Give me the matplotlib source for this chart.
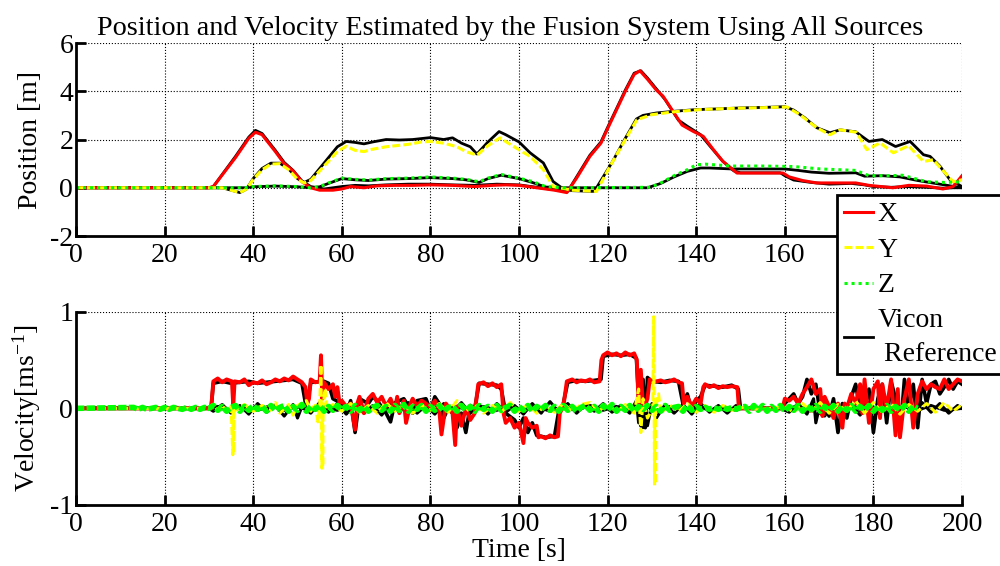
import numpy as np
import matplotlib.pyplot as plt
from matplotlib.lines import Line2D

plt.rcParams['font.family'] = 'Liberation Serif'
plt.rcParams['mathtext.default'] = 'regular'
plt.rcParams['axes.unicode_minus'] = False

# ---- position [m], (time s, value) ----
pos_x = [(0, 0), (30, 0), (31, 0.05), (36, 1.25), (39, 2.05), (40.5, 2.3), (42, 2.2), (45, 1.5), (47, 1.0),
         (49, 0.7), (51, 0.25), (53, 0.0), (55, -0.1), (58, -0.1), (60, -0.05), (62, 0.05), (65, 0.0),
         (68, 0.08), (72, 0.1), (76, 0.1), (80, 0.12), (85, 0.1), (90, 0.05), (94, 0.1), (97, 0.12),
         (100, 0.1), (104, 0.0), (108, -0.1), (110.8, -0.2), (113, 0.4), (116, 1.3), (118.5, 1.85),
         (120, 2.45), (124, 4.0), (126, 4.7), (127.3, 4.85), (129, 4.5), (131, 4.05), (132.5, 3.8),
         (136.8, 2.6), (139.3, 2.34), (141.6, 2.13), (143.8, 1.6), (146, 1.1), (149.2, 0.61), (159.6, 0.61),
         (161, 0.45), (164, 0.3), (167.2, 0.2), (171, 0.2), (176, 0.2), (179, 0.1), (184.4, 0.0),
         (188, 0.1), (192, 0.07), (195.7, -0.05), (198, 0.05), (200, 0.5)]
pos_y = [(0, 0), (33, 0), (35, -0.1), (37, -0.2), (38.5, -0.05), (40, 0.35), (42, 0.75), (44, 0.98),
         (46, 1.0), (48, 0.75), (50, 0.35), (51.5, 0.2), (53, 0.3), (55, 0.7), (57, 1.1), (59, 1.5),
         (61, 1.72), (63, 1.55), (65, 1.5), (67, 1.6), (70, 1.7), (75, 1.8), (78, 1.9), (80, 1.92),
         (83, 1.85), (86, 1.7), (88, 1.5), (90.5, 1.35), (93, 1.75), (95.7, 2.07), (98, 1.8), (102.5, 1.3),
         (105.5, 0.75), (107.7, 0.05), (112, -0.1), (117.5, -0.15), (120.5, 0.88), (124, 2.0), (126.6, 2.82),
         (130, 3.03), (135, 3.15), (140.9, 3.24), (145, 3.27), (149.9, 3.3), (155, 3.32), (160.5, 3.35),
         (163.4, 3.03), (167.2, 2.49), (170.2, 2.2), (172.5, 2.4), (176.2, 2.3), (178.5, 1.58), (181.5, 1.86),
         (184.5, 1.45), (187.9, 1.74), (191.3, 1.09), (193.5, 1.16), (198, 0.25), (200, 0.33)]
pos_z = [(0, 0), (38, 0), (40, 0.05), (45, 0.08), (50, 0.05), (53, 0.0), (55, 0.05), (57, 0.2), (60, 0.4),
         (63, 0.35), (66, 0.32), (70, 0.38), (75, 0.4), (80, 0.45), (85, 0.4), (88, 0.35), (91, 0.25),
         (93, 0.4), (96, 0.55), (100, 0.4), (103, 0.26), (106, 0.05), (110, 0.0), (129.6, 0.02), (132, 0.2),
         (135, 0.5), (138, 0.75), (140, 0.95), (142, 0.98), (148, 0.9), (155, 0.9), (162, 0.88), (168, 0.78),
         (176, 0.72), (179, 0.5), (184, 0.5), (186.5, 0.52), (189, 0.4), (192, 0.25), (196, 0.22), (200, 0.25)]

vicon_px = [(0, 0), (30, 0), (31, 0.05), (36, 1.3), (39, 2.1), (40.5, 2.38), (42, 2.25), (45, 1.55),
            (47, 1.05), (49, 0.72), (51, 0.28), (53, 0.05), (56, -0.05), (60, 0.05), (63, 0.1), (66, 0.08),
            (70, 0.12), (75, 0.15), (80, 0.15), (85, 0.12), (90, 0.1), (95, 0.15), (100, 0.12), (104, 0.02),
            (108, -0.08), (111, -0.15), (113, 0.45), (116, 1.35), (118.5, 1.9), (120, 2.5), (124, 4.05),
            (126, 4.75), (127.5, 4.85), (129, 4.55), (131, 4.1), (133, 3.65), (136, 2.8), (138, 2.55),
            (141, 2.2), (143, 1.75), (146, 1.1), (148.5, 0.7), (150, 0.62), (159, 0.62), (160, 0.5),
            (162, 0.32), (166, 0.22), (170, 0.15), (175, 0.18), (178, 0.12), (180, 0.05), (184, 0.02),
            (188, 0.05), (192, 0.02), (196, -0.02), (198, 0.0), (200, 0.0)]
vicon_py = [(0, 0), (33, 0), (35, -0.1), (37, -0.2), (38.5, -0.05), (40, 0.38), (42, 0.8), (44, 1.02),
            (46, 1.02), (48, 0.78), (50, 0.38), (51.5, 0.22), (53, 0.35), (55, 0.8), (57, 1.25), (59, 1.7),
            (61, 1.92), (63, 1.88), (65, 1.82), (67, 1.9), (70, 2.0), (73, 1.98), (76, 2.0), (80, 2.08),
            (83, 2.0), (85, 2.07), (87, 1.85), (89, 1.7), (90.5, 1.4), (93, 1.9), (95.5, 2.33), (97, 2.2),
            (100, 1.9), (102.5, 1.45), (105.5, 1.03), (107.7, 0.26), (110, -0.05), (112, -0.12), (117, -0.15),
            (119, 0.45), (121, 1.05), (124, 2.05), (126.5, 2.85), (128, 3.0), (131, 3.1), (135, 3.17),
            (140, 3.24), (145, 3.27), (150, 3.31), (155, 3.33), (160, 3.36), (162, 3.22), (164.5, 2.9),
            (167.2, 2.49), (170.2, 2.28), (172.5, 2.4), (176, 2.32), (179, 1.92), (182, 2.0), (185, 1.71),
            (188.3, 1.92), (191.3, 1.37), (192.8, 1.3), (195, 0.9), (197.3, 0.33), (200, 0.05)]
vicon_pz = [(0, 0), (38, 0), (40, 0.04), (45, 0.07), (50, 0.04), (53, 0.0), (55, 0.04), (57, 0.18),
            (60, 0.38), (63, 0.33), (66, 0.3), (70, 0.36), (75, 0.38), (80, 0.42), (85, 0.38), (88, 0.33),
            (91, 0.22), (93, 0.38), (96, 0.52), (100, 0.38), (103, 0.22), (106, 0.03), (110, 0.0), (129, 0.0),
            (132, 0.18), (135, 0.45), (138, 0.68), (141, 0.82), (143, 0.82), (148, 0.78), (160, 0.78),
            (163, 0.72), (166, 0.65), (170, 0.6), (176, 0.62), (178, 0.48), (182, 0.5), (186, 0.45),
            (190, 0.3), (195, 0.15), (200, 0.0)]

# ---- velocity [m/s], (time s, value) ----
vel_x = [(0, 0), (30.5, 0), (31, 0.28), (32, 0.31), (33, 0.27), (34, 0.3), (35.2, 0.28), (35.5, 0.02),
         (35.8, 0.28), (37, 0.27), (38, 0.3), (39, 0.24), (40, 0.27), (41, 0.26), (42, 0.29), (43, 0.25),
         (44, 0.27), (45, 0.3), (46, 0.28), (47, 0.31), (48, 0.29), (49, 0.33), (50, 0.3), (51, 0.27),
         (51.8, 0.22), (52.2, 0.05), (52.6, 0.1), (53, 0.3), (54, 0.27), (55, 0.28), (55.3, 0.55),
         (55.6, 0.1), (56, 0.27), (57, 0.2), (58, 0.25), (58.5, 0.12), (59, 0.22), (59.5, 0.05), (60, 0.08),
         (61, 0.02), (62, 0.05), (63, -0.22), (63.5, 0.05), (64, 0.12), (65, -0.05), (66, 0.1), (67, 0.15),
         (68, 0.06), (69, 0.12), (70, 0.02), (71, 0.1), (72, -0.02), (72.5, 0.12), (73, -0.05), (74, 0.08),
         (74.5, -0.15), (75.5, 0.05), (76, 0.1), (77, 0.02), (78, 0.08), (79, 0.05), (80, 0.01), (81, 0.08),
         (82, -0.02), (82.5, -0.27), (83.5, 0.05), (84, 0.02), (85, -0.05), (85.6, -0.38), (86, 0.02),
         (87, -0.18), (88, 0.0), (89, -0.12), (90, -0.05), (90.8, 0.25), (92, 0.27), (93, 0.23), (94, 0.26),
         (95, 0.22), (96, 0.25), (96.5, -0.05), (97, -0.15), (98, -0.1), (99, -0.2), (100, -0.15),
         (101, -0.36), (101.5, -0.1), (102, -0.15), (103, -0.2), (104, -0.18), (104.4, -0.3), (105, -0.29),
         (106, -0.31), (107, -0.28), (108, -0.3), (108.8, -0.29), (109.2, -0.05), (110, 0.02), (110.8, 0.28),
         (112, 0.3), (113, 0.27), (114, 0.29), (115, 0.28), (116, 0.3), (117, 0.27), (118.2, 0.28),
         (118.6, 0.5), (119, 0.55), (120, 0.58), (121, 0.55), (122, 0.57), (123, 0.54), (124, 0.58),
         (125, 0.55), (126, 0.57), (126.6, 0.5), (127, 0.05), (127.5, 0.4), (128, 0.0), (129, 0.1),
         (129.5, 0.3), (130, 0.27), (131, 0.28), (132, 0.29), (133, 0.27), (134, 0.28), (135, 0.3),
         (136, 0.27), (136.8, 0.26), (137.2, 0.05), (138, 0.12), (139, 0.02), (140, 0.1), (141, 0.05),
         (141.6, 0.22), (142, 0.25), (143, 0.22), (144, 0.24), (145, 0.21), (146, 0.23), (147, 0.22),
         (148, 0.23), (149.3, 0.22), (149.6, 0.02), (150, 0.0), (159.5, 0.0), (160, 0.1), (161, 0.08),
         (162, 0.12), (163, 0.05), (164, 0.15), (165, 0.22), (166, 0.3), (167, 0.15), (168, 0.2),
         (168.5, -0.08), (169, 0.12), (170, 0.02), (171, -0.1), (172, 0.05), (173, -0.2), (173.5, 0.05),
         (174, 0.0), (175, 0.15), (176, 0.05), (177, 0.25), (177.5, -0.05), (178, 0.3), (179, -0.15),
         (180, 0.2), (181, 0.28), (181.5, -0.1), (182, 0.25), (183, 0.0), (184, 0.3), (185, -0.28),
         (185.5, 0.2), (186, -0.3), (187, 0.1), (188, 0.3), (189, -0.2), (190, 0.15), (191, 0.28),
         (192, 0.2), (193, 0.25), (194, 0.22), (195, 0.2), (196, 0.3), (197, 0.2), (198, 0.25), (199, 0.3),
         (200, 0.28)]
vel_y = [(0, 0), (30, 0), (31, 0.04), (32, -0.02), (33, 0.03), (34, -0.03), (35, 0.02), (35.4, -0.48),
         (35.5, 0.0), (35.6, -0.46), (35.7, 0.02), (36, -0.02), (38, 0.04), (40, -0.03), (42, 0.03),
         (44, -0.02), (45, 0.06), (46, -0.05), (48, 0.04), (49, -0.07), (50, 0.03), (52, 0.08), (53, -0.03),
         (54, 0.05), (54.6, -0.14), (55, 0.02), (55.3, 0.45), (55.5, -0.62), (55.6, 0.0), (55.7, -0.6),
         (55.8, 0.02), (56.2, 0.2), (56.6, 0.0), (58, 0.04), (60, -0.03), (62, 0.05), (64, -0.04), (66, 0.03),
         (68, -0.05), (70, 0.06), (72, -0.03), (74, 0.04), (76, -0.05), (78, 0.03), (80, -0.02), (82, 0.05),
         (84, -0.04), (86, 0.08), (88, -0.03), (90, 0.04), (92, -0.05), (94, 0.03), (96, -0.04), (98, 0.06),
         (100, -0.03), (102, 0.04), (104, -0.05), (106, 0.03), (108, -0.04), (110, 0.05), (112, -0.03),
         (114, 0.04), (116, 0.06), (118, -0.03), (120, 0.05), (122, -0.04), (124, 0.04), (126, -0.05),
         (127, 0.2), (127.5, -0.25), (128, 0.1), (129, -0.1), (130.2, 0.0), (130.4, 0.95), (130.6, -0.8),
         (130.65, 0.0), (130.7, -0.78), (130.8, 0.0), (131.5, 0.15), (132, -0.05), (134, 0.04), (136, -0.03),
         (138, 0.05), (140, -0.04), (142, 0.03), (144, -0.04), (146, 0.03), (148, -0.02), (150, 0.01),
         (155, -0.01), (160, 0.02), (162, -0.04), (164, 0.05), (166, -0.03), (168, 0.06), (170, -0.05),
         (172, 0.04), (174, -0.03), (176, 0.08), (178, -0.05), (180, 0.06), (182, -0.04), (184, 0.05),
         (186, -0.06), (188, 0.04), (190, -0.03), (192, 0.05), (194, -0.04), (196, 0.06), (198, -0.03),
         (200, 0.04)]
# z velocity sampled every second from t = 13 s (zero before that)
vel_z_start = 13
vel_z = [0.01, -0.01, 0.01, -0.01, 0.0, 0.01, -0.01, 0.01, -0.01, 0.01, 0.0, -0.01, 0.01, -0.01, 0.01,
         -0.01, 0.01, 0.0,
         0.03, -0.02, 0.02, -0.03, 0.01, 0.03, -0.03, 0.02, -0.02, 0.03,
         -0.01, 0.02, -0.03, 0.03, -0.02, 0.01, 0.03, -0.03, 0.02, -0.02,
         0.04, -0.03, 0.02, -0.01, 0.03, -0.03, 0.02, -0.02, 0.03, -0.01,
         0.02, -0.03, 0.03, -0.02, 0.02, -0.03, 0.01, 0.03, -0.02, 0.02,
         -0.03, 0.03, -0.02, 0.04, -0.03, 0.02, -0.01, 0.03, -0.03, 0.02,
         -0.02, 0.03, -0.03, 0.01, 0.02, -0.03, 0.03, -0.02, 0.02, -0.03,
         0.03, -0.01, 0.02, -0.03, 0.03, -0.02, 0.01, 0.03, -0.03, 0.02,
         -0.02, 0.03, -0.03, 0.02, -0.01, 0.03, -0.02, 0.02, -0.03, 0.03,
         -0.02, 0.02, -0.03, 0.01, 0.03, -0.02, 0.02, -0.03, 0.03, -0.02,
         0.04, -0.03, 0.02, -0.02, 0.03, -0.03, 0.02, -0.01, 0.03, -0.02,
         0.02, -0.03, 0.03, -0.02, 0.01, 0.02, -0.03, 0.03, -0.02, 0.02,
         -0.01, 0.01, -0.01, 0.01, -0.01, 0.01, -0.01, 0.01, -0.01, 0.01,
         0.02, -0.03, 0.03, -0.02, 0.03, -0.03, 0.02, -0.02, 0.03, -0.03,
         0.02, -0.02, 0.03, -0.03, 0.02, -0.01, 0.03, -0.03, 0.02, -0.02,
         0.03, -0.03, 0.02, -0.02, 0.03, -0.03, 0.02, -0.02, 0.03, -0.03,
         0.02, -0.02, 0.03, -0.03, 0.02, -0.02, 0.03, -0.03, 0.02, 0.0]

vicon_vx = [(0, 0), (30.5, 0), (31, 0.26), (33, 0.28), (35, 0.26), (37, 0.27), (39, 0.28), (41, 0.26),
            (43, 0.27), (45, 0.28), (47, 0.29), (49, 0.3), (51, 0.26), (52, 0.0), (53, 0.27), (56, 0.28),
            (57, 0.26), (58, 0.1), (60, 0.05), (61, -0.05), (62, 0.08), (63, -0.25), (64, 0.1), (66, 0.05),
            (67, 0.12), (68, 0.08), (70, -0.05), (71, -0.14), (72, 0.06), (74, 0.1), (76, -0.05), (77, 0.08),
            (79, 0.1), (80, -0.02), (81, 0.12), (82, 0.05), (83, -0.1), (84, 0.0), (85, -0.05), (86, -0.2),
            (87, -0.05), (88, -0.25), (89, 0.03), (90, 0.0), (91, 0.26), (93, 0.25), (95, 0.24), (96, 0.2),
            (97, -0.05), (99, -0.12), (100, -0.2), (101, -0.1), (102, -0.25), (103, -0.15), (104, -0.28),
            (106, -0.3), (108, -0.29), (109, -0.02), (110, 0.05), (111, 0.27), (113, 0.29), (115, 0.28),
            (117, 0.29), (118.5, 0.3), (119, 0.54), (121, 0.56), (123, 0.55), (125, 0.56), (126.5, 0.52),
            (127, 0.1), (127.5, -0.18), (128, 0.3), (128.5, -0.2), (129, 0.32), (130, 0.28), (132, 0.27),
            (134, 0.29), (136, 0.28), (137, 0.05), (138, 0.15), (139, -0.03), (140, 0.08), (141, 0.12),
            (142, 0.24), (144, 0.23), (146, 0.22), (148, 0.24), (149.5, 0.2), (150, 0.0), (159.5, 0.0),
            (160, 0.05), (162, 0.15), (163, 0.05), (164, 0.12), (165, 0.3), (166, 0.15), (167, 0.25),
            (168, -0.05), (169, 0.05), (170, -0.08), (171, 0.1), (172, -0.25), (173, 0.05), (174, -0.1),
            (175, 0.12), (176, 0.25), (177, -0.02), (178, 0.05), (179, 0.2), (180, -0.25), (181, 0.1),
            (182, 0.25), (183, -0.15), (184, 0.28), (185, 0.1), (186, -0.28), (187, 0.3), (188, 0.0),
            (189, 0.25), (190, -0.2), (191, 0.3), (192, 0.05), (193, 0.25), (194, 0.28), (195, 0.15),
            (196, 0.22), (197, 0.3), (198, 0.2), (199, 0.28), (200, 0.25)]
vicon_vy = [(0, 0), (30, 0), (31, -0.03), (33, 0.04), (35, -0.05), (37, 0.03), (39, -0.06), (41, 0.05),
            (43, -0.04), (45, 0.03), (47, -0.08), (49, 0.04), (50, -0.1), (51, 0.02), (53, -0.05), (55, 0.06),
            (57, -0.04), (59, 0.05), (61, -0.06), (63, 0.04), (65, -0.05), (67, 0.03), (69, -0.07), (71, 0.05),
            (73, -0.04), (75, 0.06), (77, -0.05), (79, 0.03), (81, -0.06), (83, 0.05), (85, -0.04), (87, 0.06),
            (89, -0.05), (91, 0.04), (93, -0.06), (95, 0.05), (97, -0.04), (99, 0.03), (101, -0.06),
            (103, 0.05), (105, -0.05), (107, 0.07), (109, -0.04), (111, 0.05), (113, -0.05), (115, 0.04),
            (117, -0.03), (119, 0.05), (121, -0.04), (123, 0.03), (125, -0.05), (126.5, 0.08), (127, -0.15),
            (127.5, 0.12), (128, -0.2), (128.5, 0.1), (129, -0.18), (130, 0.05), (131, -0.1), (133, 0.04),
            (135, -0.05), (137, 0.04), (139, -0.06), (141, 0.05), (143, -0.04), (145, 0.03), (147, -0.05),
            (149, 0.03), (150, 0.0), (159, 0.0), (161, -0.04), (163, 0.05), (165, -0.06), (166.5, 0.1),
            (167, -0.15), (168, 0.05), (169, -0.08), (171, 0.06), (173, -0.05), (175, 0.04), (177, -0.07),
            (179, 0.06), (181, -0.05), (183, 0.05), (185, -0.06), (187, 0.04), (189, -0.05), (191, 0.06),
            (193, -0.04), (195, 0.05), (197, -0.05), (199, 0.03), (200, 0.0)]
vicon_vz = [(0, 0), (30, 0), (32, 0.02), (35, -0.03), (38, 0.02), (41, -0.02), (44, 0.03), (47, -0.02),
            (50, 0.02), (53, -0.03), (56, 0.02), (59, -0.02), (62, 0.03), (65, -0.02), (68, 0.02),
            (71, -0.03), (74, 0.02), (77, -0.02), (80, 0.03), (83, -0.02), (86, 0.02), (89, -0.03),
            (92, 0.02), (95, -0.02), (98, 0.03), (101, -0.02), (104, 0.02), (107, -0.03), (110, 0.02),
            (113, -0.02), (116, 0.03), (119, -0.02), (122, 0.02), (125, -0.03), (128, 0.04), (131, -0.03),
            (134, 0.02), (137, -0.02), (140, 0.03), (143, -0.02), (146, 0.02), (149, -0.02), (150, 0.0),
            (160, 0.0), (163, 0.02), (166, -0.03), (169, 0.02), (172, -0.02), (175, 0.03), (178, -0.02),
            (181, 0.02), (184, -0.03), (187, 0.02), (190, -0.02), (193, 0.03), (196, -0.02), (200, 0.0)]

RED, YEL, GRN = '#ff0000', '#ffff00', '#00ff00'
DASH = (0, (2.6, 1.0))
DOT = (0, (1.0, 1.3))


def xy(pairs):
    a = np.array(pairs, dtype=float)
    return a[:, 0], a[:, 1]


def setup(ax, ylim, yticks):
    ax.set_xlim(0, 200)
    ax.set_ylim(*ylim)
    ax.set_xticks(np.arange(0, 201, 20))
    ax.set_yticks(yticks)
    ax.grid(True, linestyle=':', color='k', linewidth=0.8)
    ax.spines['top'].set_visible(False)
    ax.spines['right'].set_visible(False)
    ax.spines['left'].set_linewidth(2)
    ax.spines['bottom'].set_linewidth(2)
    ax.tick_params(direction='in', length=7, width=2, labelsize=20)
    ax.tick_params(axis='x', pad=5)
    ax.tick_params(axis='y', pad=2)


fig = plt.figure(figsize=(10, 5.66), dpi=100)
ax1 = fig.add_axes([0.076, 0.583, 0.886, 0.341])
ax2 = fig.add_axes([0.076, 0.108, 0.886, 0.341])

# position
for ref in (vicon_px, vicon_py, vicon_pz):
    ax1.plot(*xy(ref), color='k', lw=2.0)
ax1.plot(*xy(pos_x), color=RED, lw=2.2)
ax1.plot(*xy(pos_y), color=YEL, lw=2.2, linestyle=DASH)
ax1.plot(*xy(pos_z), color=GRN, lw=2.2, linestyle=DOT)
setup(ax1, (-2, 6), [-2, 0, 2, 4, 6])
ax1.set_ylabel('Position [m]', fontsize=20)
ax1.yaxis.set_label_coords(-0.037, 0.5)
ax1.set_title('Position and Velocity Estimated by the Fusion System Using All Sources',
              fontsize=20.3, pad=6, x=0.49)

# velocity
ax2.plot(*xy(vicon_vx), color='k', lw=2.6)
for ref in (vicon_vy, vicon_vz):
    ax2.plot(*xy(ref), color='k', lw=2.2)
ax2.plot(*xy(vel_x), color=RED, lw=2.8)
ax2.plot(*xy(vel_y), color=YEL, lw=2.2, linestyle=DASH)
tz = np.concatenate([[0], vel_z_start + np.arange(len(vel_z))])
ax2.plot(tz, np.concatenate([[0], vel_z]), color=GRN, lw=4.0, linestyle=(0, (1.5, 0.4)))
setup(ax2, (-1, 1), [-1, 0, 1])
ax2.set_ylabel('Velocity[ms$^{-1}$]', fontsize=20)
ax2.yaxis.set_label_coords(-0.037, 0.5)
ax2.set_xlabel('Time [s]', fontsize=20)
ax2.xaxis.set_label_coords(0.5, -0.17)

handles = [Line2D([], [], color=RED, lw=2.2),
           Line2D([], [], color=YEL, lw=2.2, linestyle=DASH),
           Line2D([], [], color=GRN, lw=2.2, linestyle=DOT),
           Line2D([], [], color='k', lw=2.0)]
leg = fig.legend(handles, ['X', 'Y', 'Z', 'Vicon\n Reference'], loc='upper left',
                 bbox_to_anchor=(0.837, 0.6555), fontsize=20, handlelength=1.05,
                 handletextpad=0.15, labelspacing=0.36, borderpad=0.25, borderaxespad=0,
                 fancybox=False, edgecolor='k', framealpha=1)
leg.get_frame().set_linewidth(2)
leg.get_texts()[3].set_linespacing(1.45)

fig.savefig('out.png', dpi=100)
